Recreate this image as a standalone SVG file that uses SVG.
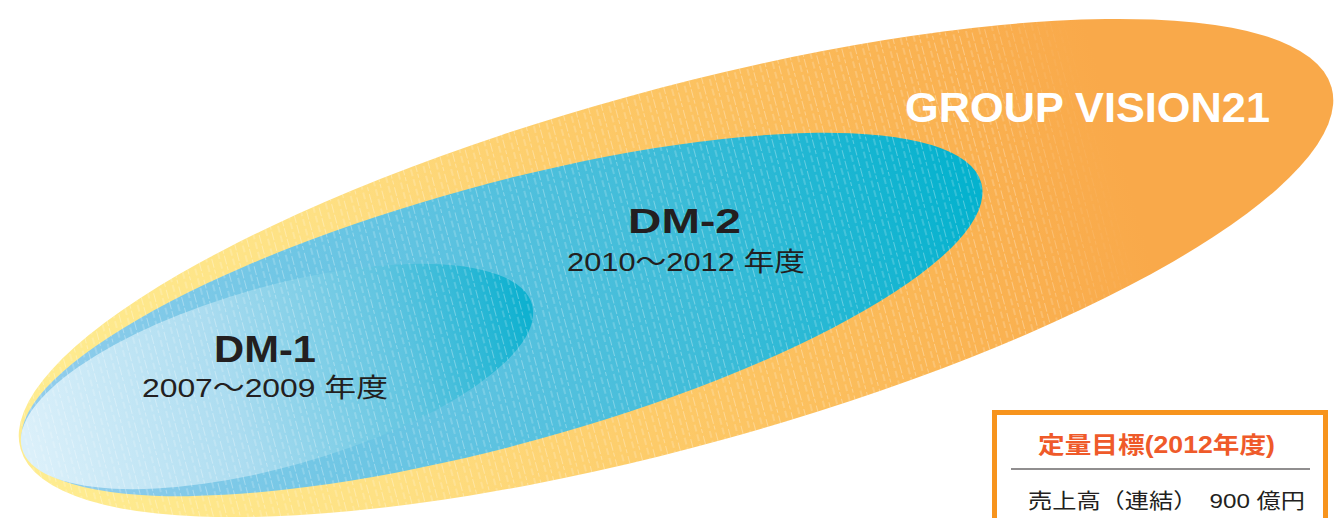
<svg xmlns="http://www.w3.org/2000/svg" width="1335" height="518" viewBox="0 0 1335 518">
  <style>
    .lbl { font-family: "Liberation Sans", "Noto Sans CJK JP", sans-serif; fill: #231f20; }
    .bold { font-weight: bold; }
  </style>
  <defs>
    <linearGradient id="gOuter" gradientUnits="userSpaceOnUse" x1="20" y1="0" x2="1333" y2="0">
      <stop offset="0" stop-color="#feec90"/>
      <stop offset="0.25" stop-color="#fee083"/>
      <stop offset="0.45" stop-color="#fdcb69"/>
      <stop offset="0.7" stop-color="#fab453"/>
      <stop offset="0.85" stop-color="#f9a94a"/>
      <stop offset="1" stop-color="#f9a94a"/>
    </linearGradient>
    <linearGradient id="gDm2" gradientUnits="userSpaceOnUse" x1="21" y1="0" x2="983" y2="0">
      <stop offset="0" stop-color="#93cdec"/>
      <stop offset="0.4" stop-color="#64c4e2"/>
      <stop offset="0.7" stop-color="#3dbcd8"/>
      <stop offset="1" stop-color="#05b2ce"/>
    </linearGradient>
    <linearGradient id="gDm1" gradientUnits="userSpaceOnUse" x1="21" y1="0" x2="533" y2="0">
      <stop offset="0" stop-color="#dbf0fa"/>
      <stop offset="0.4" stop-color="#abdcf0"/>
      <stop offset="0.75" stop-color="#5ec4e0"/>
      <stop offset="1" stop-color="#0fb1d0"/>
    </linearGradient>
    <linearGradient id="gFade" gradientUnits="userSpaceOnUse" x1="0" y1="0" x2="1335" y2="0">
      <stop offset="0" stop-color="#fff"/>
      <stop offset="0.76" stop-color="#fff"/>
      <stop offset="0.84" stop-color="#000"/>
      <stop offset="1" stop-color="#000"/>
    </linearGradient>
    <pattern id="hatch" patternUnits="userSpaceOnUse" width="13" height="40" patternTransform="rotate(-15)">
      <line x1="2" y1="0" x2="2" y2="40" stroke="#ffffff" stroke-width="0.9" stroke-dasharray="7 3" stroke-opacity="0.4"/>
      <line x1="7.5" y1="3" x2="7.5" y2="43" stroke="#ffffff" stroke-width="0.9" stroke-dasharray="9 2" stroke-opacity="0.35"/>
    </pattern>
    <mask id="hatchMask">
      <ellipse cx="676" cy="268" rx="680" ry="178" transform="rotate(-15.4 676 268)" fill="url(#gFade)"/>
    </mask>
  </defs>

  <g id="group-vision21">
    <ellipse cx="676" cy="268" rx="680" ry="178" transform="rotate(-15.4 676 268)" fill="url(#gOuter)"/>
  </g>

  <g id="dm2">
    <ellipse cx="502" cy="314.5" rx="497" ry="130" transform="rotate(-15.35 502 314.5)" fill="url(#gDm2)"/>
  </g>

  <g id="dm1">
    <ellipse cx="277" cy="376.5" rx="265" ry="90" transform="rotate(-15.8 277 376.5)" fill="url(#gDm1)"/>
  </g>

  <rect x="0" y="0" width="1335" height="518" fill="url(#hatch)" mask="url(#hatchMask)"/>

  <g id="labels">
    <text x="905" y="122" class="lbl bold" font-size="42" style="fill:#ffffff" textLength="365" lengthAdjust="spacingAndGlyphs">GROUP VISION21</text>
    <text x="628" y="233" class="lbl bold" font-size="35" textLength="113" lengthAdjust="spacingAndGlyphs">DM-2</text>
    <text x="567" y="271" class="lbl" font-size="26" textLength="238" lengthAdjust="spacingAndGlyphs">2010～2012 年度</text>
    <text x="214" y="362" class="lbl bold" font-size="37" textLength="102" lengthAdjust="spacingAndGlyphs">DM-1</text>
    <text x="142" y="397" class="lbl" font-size="26" textLength="246" lengthAdjust="spacingAndGlyphs">2007～2009 年度</text>
  </g>

  <g id="target-box">
    <rect x="994.5" y="412.5" width="331" height="130" fill="#ffffff" stroke="#f7941d" stroke-width="5"/>
    <text x="1038" y="453" class="lbl bold" font-size="23" style="fill:#ef5a2a" textLength="237" lengthAdjust="spacingAndGlyphs">定量目標(2012年度)</text>
    <line x1="1011" y1="469" x2="1310" y2="469" stroke="#231f20" stroke-width="1.2"/>
    <text x="1028" y="508" class="lbl" font-size="21" textLength="277" lengthAdjust="spacingAndGlyphs">売上高（連結）　900 億円</text>
  </g>

  <g id="connectors"/>
</svg>
